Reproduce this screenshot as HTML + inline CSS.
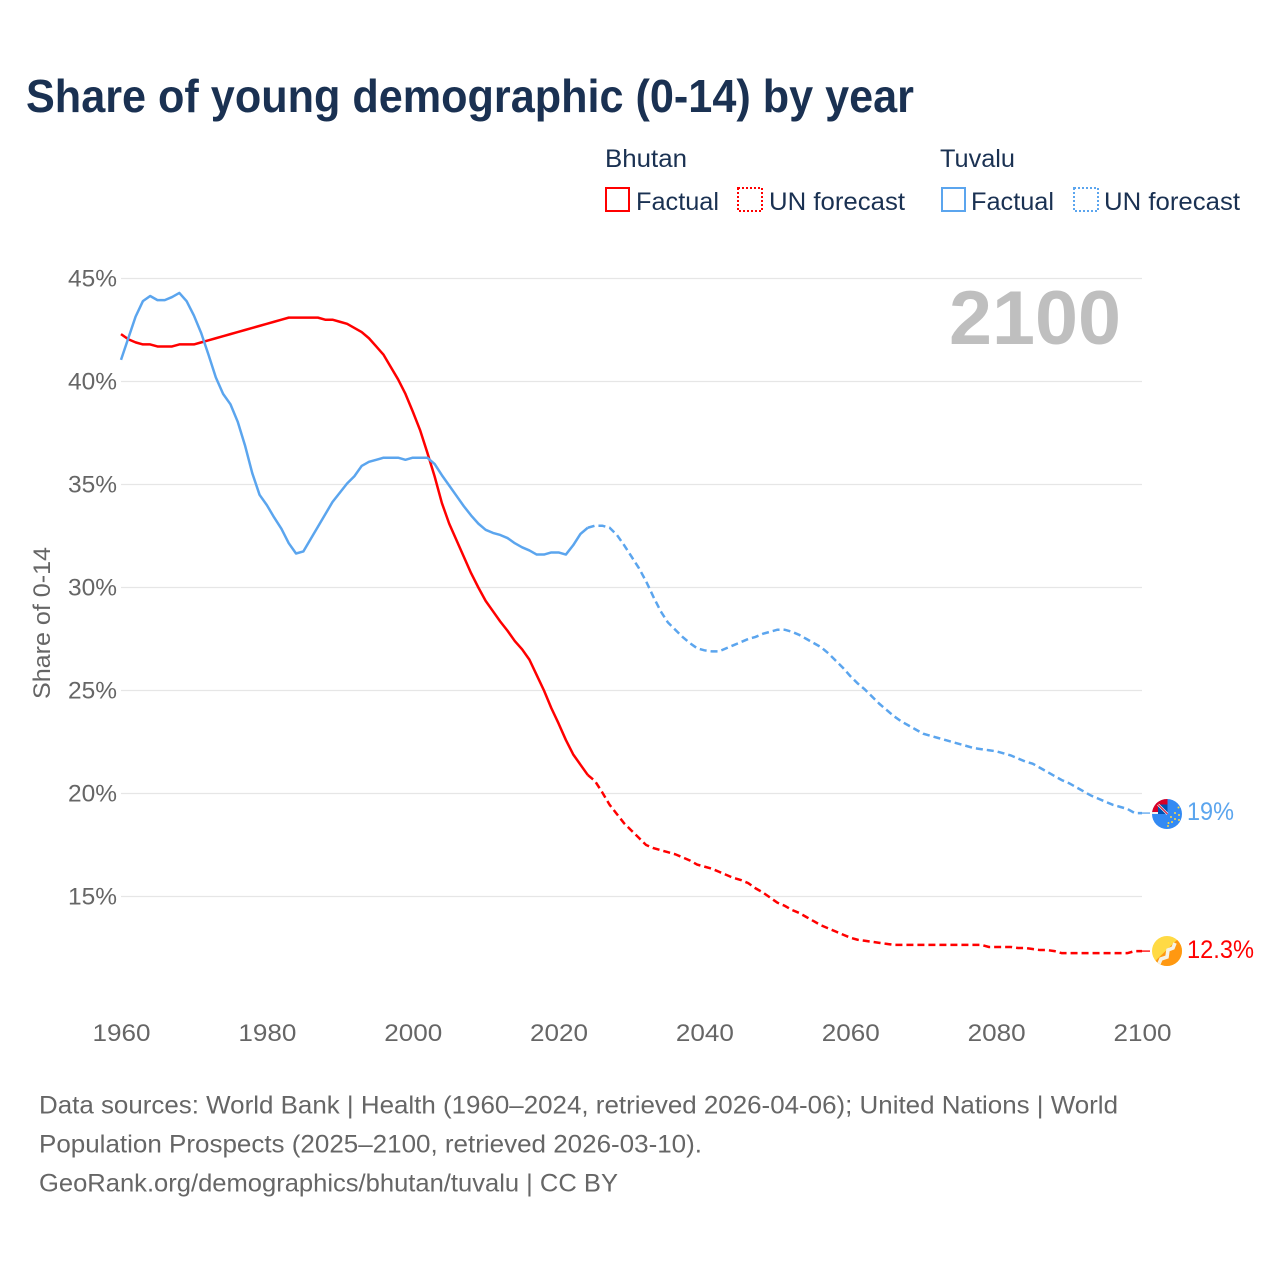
<!DOCTYPE html>
<html lang="en">
<head>
<meta charset="utf-8">
<title>Share of young demographic (0-14) by year</title>
<style>
html,body{margin:0;padding:0;background:#fff}
svg{display:block}
text{font-family:"Liberation Sans",sans-serif}
</style>
</head>
<body>
<svg id="chart" xmlns="http://www.w3.org/2000/svg" width="1280" height="1280" viewBox="0 0 1280 1280">
  <rect width="1280" height="1280" fill="#fff"/>
  <text x="26" y="112" font-size="46" font-weight="700" fill="#1a3152" textLength="888" lengthAdjust="spacingAndGlyphs">Share of young demographic (0-14) by year</text>

  <g fill="#1a3152" font-size="25">
    <text x="605" y="167" textLength="82" lengthAdjust="spacingAndGlyphs">Bhutan</text>
    <text x="940" y="167" textLength="75" lengthAdjust="spacingAndGlyphs">Tuvalu</text>
    <rect x="606" y="188" width="23" height="23" fill="none" stroke="#ff0000" stroke-width="2"/>
    <text x="636" y="210" textLength="83" lengthAdjust="spacingAndGlyphs">Factual</text>
    <rect x="738" y="188" width="24" height="23" fill="none" stroke="#ff0000" stroke-width="2" stroke-dasharray="2 2"/>
    <text x="769" y="210" textLength="136" lengthAdjust="spacingAndGlyphs">UN forecast</text>
    <rect x="942" y="188" width="23" height="23" fill="none" stroke="#5ba5ee" stroke-width="2"/>
    <text x="971" y="210" textLength="83" lengthAdjust="spacingAndGlyphs">Factual</text>
    <rect x="1074" y="188" width="24" height="23" fill="none" stroke="#5ba5ee" stroke-width="2" stroke-dasharray="2 2"/>
    <text x="1104" y="210" textLength="136" lengthAdjust="spacingAndGlyphs">UN forecast</text>
  </g>

  <g id="grid"></g>
  <g id="yticks"></g>
  <g id="xticks"></g>
  <text x="949" y="344" font-size="76" font-weight="700" fill="#bfbfbf" textLength="172" lengthAdjust="spacingAndGlyphs">2100</text>
  <text transform="translate(50,699) rotate(-90)" font-size="24" fill="#666" textLength="152" lengthAdjust="spacingAndGlyphs">Share of 0-14</text>
  <g id="series"></g>

  <defs>
    <clipPath id="tuvalu-clip"><circle cx="1167" cy="814" r="15"/></clipPath>
    <clipPath id="bhutan-clip"><circle cx="1167" cy="951" r="15"/></clipPath>
  </defs>
  <g clip-path="url(#bhutan-clip)">
    <rect x="1150" y="934" width="34" height="34" fill="#ffda44"/>
    <polygon points="1184,934 1184,968 1150,968 1150,966 1179,938" fill="#ff9811"/>
    <path d="M1158 966 L1161 959 L1167 957 L1168 950 L1173 948 L1175 943" fill="none" stroke="#f5f2e6" stroke-width="3.6"/>
  </g>
  <g clip-path="url(#tuvalu-clip)">
    <rect x="1150" y="797" width="34" height="34" fill="#338af3"/>
    <rect x="1150" y="797" width="17.5" height="17" fill="#f0f0f0"/>
    <rect x="1150" y="797" width="17.5" height="7.5" fill="#d80027"/>
    <rect x="1150" y="797" width="8" height="15" fill="#d80027"/>
    <rect x="1158" y="804.5" width="9.5" height="9.5" fill="#0052b4"/>
    <path d="M1158 804.5 L1167.5 814" stroke="#f0f0f0" stroke-width="2.6"/>
    <path d="M1158 804.5 L1167.5 814" stroke="#d80027" stroke-width="1"/>
    <g fill="#ffda44">
      <circle cx="1178.5" cy="807.5" r="1"/><circle cx="1175" cy="813" r="1"/><circle cx="1179" cy="815" r="1"/>
      <circle cx="1171" cy="817" r="1"/><circle cx="1175" cy="819" r="1"/><circle cx="1179" cy="820" r="1"/>
      <circle cx="1172" cy="822" r="1"/><circle cx="1168.5" cy="823" r="1"/><circle cx="1168" cy="826" r="1"/>
    </g>
  </g>
  <text x="1187" y="820" font-size="25" fill="#5ba5ee" textLength="47" lengthAdjust="spacingAndGlyphs">19%</text>
  <text x="1187" y="958" font-size="25" fill="#ff0000" textLength="67" lengthAdjust="spacingAndGlyphs">12.3%</text>

  <g font-size="25" fill="#666">
    <text x="39" y="1113.5" textLength="1079" lengthAdjust="spacingAndGlyphs">Data sources: World Bank | Health (1960–2024, retrieved 2026-04-06); United Nations | World</text>
    <text x="39" y="1152.5" textLength="663" lengthAdjust="spacingAndGlyphs">Population Prospects (2025–2100, retrieved 2026-03-10).</text>
    <text x="39" y="1191.5" textLength="579" lengthAdjust="spacingAndGlyphs">GeoRank.org/demographics/bhutan/tuvalu | CC BY</text>
  </g>
</svg>
<script>
const yTickValues = [45, 40, 35, 30, 25, 20, 15];
const xTickYears = [1960, 1980, 2000, 2020, 2040, 2060, 2080, 2100];
const firstYear = 1960;
const forecastStartYear = 2024;
const bhutanShare = [
  42.3,42.05,41.9,41.8,41.8,41.7,41.7,41.7,41.8,41.8,
  41.8,41.9,42.0,42.1,42.2,42.3,42.4,42.5,42.6,42.7,
  42.8,42.9,43.0,43.1,43.1,43.1,43.1,43.1,43.0,43.0,
  42.9,42.8,42.6,42.4,42.1,41.7,41.3,40.7,40.1,39.4,
  38.55,37.65,36.55,35.4,34.1,33.1,32.3,31.5,30.7,30.0,
  29.35,28.85,28.35,27.9,27.4,27.0,26.5,25.75,25.0,24.15,
  23.4,22.6,21.9,21.4,20.9,
  20.6,20.05,19.45,19.0,18.55,18.2,17.85,17.5,17.35,17.25,
  17.15,17.05,16.9,16.75,16.55,16.45,16.35,16.2,16.05,15.9,
  15.8,15.65,15.4,15.2,14.95,14.7,14.55,14.35,14.2,14.0,
  13.8,13.6,13.45,13.3,13.15,13.0,12.9,12.85,12.8,12.75,
  12.7,12.65,12.65,12.65,12.65,12.65,12.65,12.65,12.65,12.65,
  12.65,12.65,12.65,12.65,12.55,12.55,12.55,12.55,12.5,12.5,
  12.45,12.4,12.4,12.35,12.25,12.25,12.25,12.25,12.25,12.25,
  12.25,12.25,12.25,12.25,12.35,12.35
];
const tuvaluShare = [
  41.05,42.1,43.15,43.9,44.15,43.95,43.95,44.1,44.3,43.9,
  43.2,42.35,41.3,40.2,39.4,38.9,38.05,36.9,35.55,34.5,
  34.0,33.4,32.85,32.15,31.65,31.75,32.35,32.95,33.55,34.15,
  34.6,35.05,35.4,35.9,36.1,36.2,36.3,36.3,36.3,36.2,
  36.3,36.3,36.3,36.0,35.45,34.95,34.45,33.95,33.5,33.1,
  32.8,32.65,32.55,32.4,32.15,31.95,31.8,31.6,31.6,31.7,
  31.7,31.6,32.05,32.6,32.9,
  33.0,33.0,32.9,32.55,32.05,31.5,30.95,30.3,29.55,28.85,
  28.3,27.95,27.6,27.3,27.05,26.95,26.9,26.9,27.05,27.2,
  27.35,27.5,27.6,27.75,27.85,27.95,27.95,27.85,27.7,27.5,
  27.3,27.1,26.8,26.45,26.1,25.7,25.35,25.05,24.7,24.35,
  24.05,23.75,23.5,23.3,23.1,22.9,22.8,22.7,22.6,22.5,
  22.4,22.3,22.2,22.15,22.1,22.05,21.95,21.85,21.7,21.55,
  21.45,21.25,21.05,20.85,20.65,20.5,20.3,20.1,19.9,19.75,
  19.6,19.45,19.35,19.25,19.05,19.05
];

const NS = 'http://www.w3.org/2000/svg';
function xScale(year) { return 121 + (year - 1960) * (1142 - 121) / 140; }
function yScale(value) { return 278.5 + (45 - value) * 20.6; }
function make(tag, parent) {
  const el = document.createElementNS(NS, tag);
  parent.appendChild(el);
  return el;
}
function linePath(values, fromYear, toYear) {
  let d = '';
  for (let y = fromYear; y <= toYear; y++) {
    const v = values[y - firstYear];
    d += (d ? 'L' : 'M') + xScale(y).toFixed(2) + ' ' + yScale(v).toFixed(2);
  }
  return d;
}

const gridGroup = document.getElementById('grid');
const yTickGroup = document.getElementById('yticks');
yTickValues.forEach(function (v) {
  const line = make('line', gridGroup);
  
  
  line.setAttribute('x1', 121);
  line.setAttribute('x2', 1142);
  line.setAttribute('y1', yScale(v));
  line.setAttribute('y2', yScale(v));
  line.setAttribute('stroke', '#e6e6e6');
  line.setAttribute('stroke-width', '1.3');
  const label = make('text', yTickGroup);
  
  
  label.setAttribute('x', 117);
  label.setAttribute('y', yScale(v) + 8);
  label.setAttribute('text-anchor', 'end');
  label.setAttribute('font-size', '24');
  label.setAttribute('fill', '#666');
  label.setAttribute('textLength', '49');
  label.setAttribute('lengthAdjust', 'spacingAndGlyphs');
  label.textContent = v + '%';
});

const xTickGroup = document.getElementById('xticks');
xTickYears.forEach(function (year) {
  const label = make('text', xTickGroup);
  
  
  label.setAttribute('x', xScale(year) + 0.5);
  label.setAttribute('y', 1041);
  label.setAttribute('text-anchor', 'middle');
  label.setAttribute('font-size', '24');
  label.setAttribute('fill', '#666');
  label.setAttribute('textLength', '58');
  label.setAttribute('lengthAdjust', 'spacingAndGlyphs');
  label.textContent = year;
});

const seriesGroup = document.getElementById('series');
const lastYear = firstYear + bhutanShare.length - 1;

const bhutanFactual = make('path', seriesGroup);


bhutanFactual.setAttribute('d', linePath(bhutanShare, firstYear, forecastStartYear));
bhutanFactual.setAttribute('fill', 'none');
bhutanFactual.setAttribute('stroke', '#ff0000');
bhutanFactual.setAttribute('stroke-width', '2.5');
bhutanFactual.setAttribute('stroke-linejoin', 'round');

const bhutanForecast = make('path', seriesGroup);


bhutanForecast.setAttribute('d', linePath(bhutanShare, forecastStartYear, lastYear));
bhutanForecast.setAttribute('fill', 'none');
bhutanForecast.setAttribute('stroke', '#ff0000');
bhutanForecast.setAttribute('stroke-width', '2.5');
bhutanForecast.setAttribute('stroke-dasharray', '7 4');

const tuvaluFactual = make('path', seriesGroup);


tuvaluFactual.setAttribute('d', linePath(tuvaluShare, firstYear, forecastStartYear));
tuvaluFactual.setAttribute('fill', 'none');
tuvaluFactual.setAttribute('stroke', '#5ba5ee');
tuvaluFactual.setAttribute('stroke-width', '2.5');
tuvaluFactual.setAttribute('stroke-linejoin', 'round');

const tuvaluForecast = make('path', seriesGroup);


tuvaluForecast.setAttribute('d', linePath(tuvaluShare, forecastStartYear, lastYear));
tuvaluForecast.setAttribute('fill', 'none');
tuvaluForecast.setAttribute('stroke', '#5ba5ee');
tuvaluForecast.setAttribute('stroke-width', '2.5');
tuvaluForecast.setAttribute('stroke-dasharray', '7 4');

const bhutanConnector = make('line', seriesGroup);


bhutanConnector.setAttribute('x1', xScale(lastYear));
bhutanConnector.setAttribute('x2', xScale(lastYear) + 8);
bhutanConnector.setAttribute('y1', yScale(bhutanShare[bhutanShare.length - 1]));
bhutanConnector.setAttribute('y2', yScale(bhutanShare[bhutanShare.length - 1]));
bhutanConnector.setAttribute('stroke', '#ff0000');
bhutanConnector.setAttribute('stroke-width', '1.3');

const tuvaluConnector = make('line', seriesGroup);


tuvaluConnector.setAttribute('x1', xScale(lastYear));
tuvaluConnector.setAttribute('x2', xScale(lastYear) + 8);
tuvaluConnector.setAttribute('y1', yScale(tuvaluShare[tuvaluShare.length - 1]));
tuvaluConnector.setAttribute('y2', yScale(tuvaluShare[tuvaluShare.length - 1]));
tuvaluConnector.setAttribute('stroke', '#5ba5ee');
tuvaluConnector.setAttribute('stroke-width', '1.3');
</script>
</body>
</html>
